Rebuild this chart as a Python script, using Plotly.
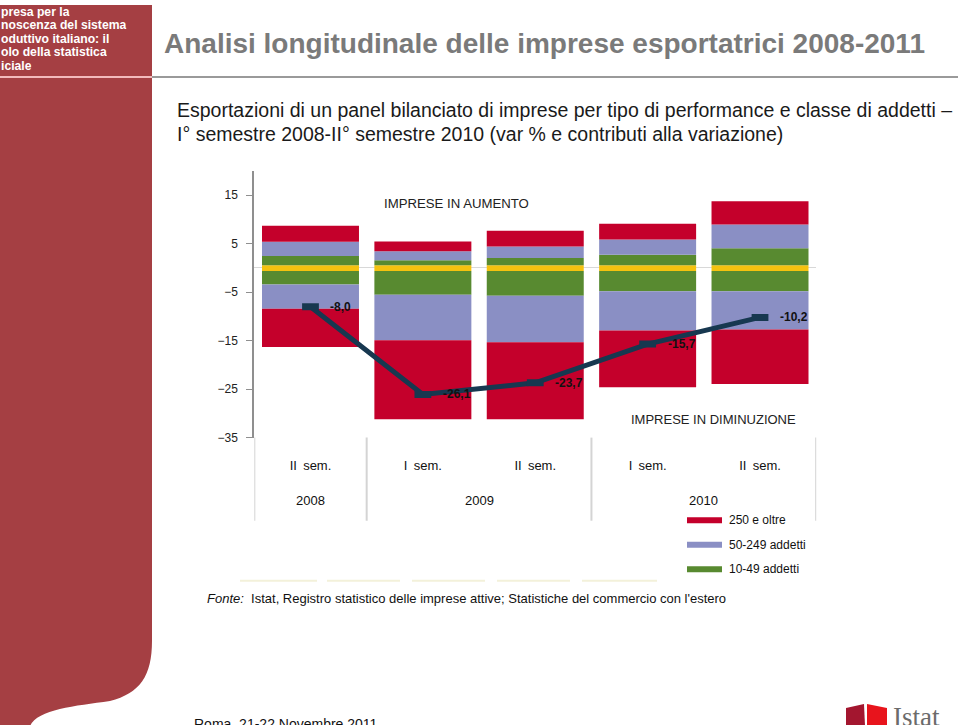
import plotly.graph_objects as go

# ---------------- data ----------------
periods = ["II sem. 2008", "I sem. 2009", "II sem. 2009", "I sem. 2010", "II sem. 2010"]
sem_labels = ["II\u00a0\u2009sem.", "I\u00a0\u2009sem.", "II\u00a0\u2009sem.", "I\u00a0\u2009sem.", "II\u00a0\u2009sem."]
years = ["2008", "2009", "2010"]
year_pos = [0, 1.5, 3.5]

micro_up = [0.55, 0.55, 0.55, 0.55, 0.55]
micro_down = [-0.62, -0.62, -0.62, -0.62, -0.62]
small_up = [1.9, 1.05, 1.5, 2.2, 3.5]
small_down = [-2.8, -4.9, -5.1, -4.2, -4.2]
medium_up = [2.95, 1.85, 2.4, 3.1, 4.9]
medium_down = [-5.0, -9.4, -9.6, -8.1, -7.9]
large_up = [3.3, 2.0, 3.25, 3.3, 4.8]
large_down = [-7.9, -16.3, -15.9, -11.7, -11.2]
net_change = [-8.0, -26.1, -23.7, -15.7, -10.2]
net_labels = ["-8,0", "-26,1", "-23,7", "-15,7", "-10,2"]

y_ticks = [15, 5, -5, -15, -25, -35]
legend_names = ["250 e oltre", "50-249 addetti", "10-49 addetti"]

# ---------------- styles ----------------
RED = "#C4002B"
BLUE = "#8A8FC4"
GREEN = "#588A30"
YELLOW = "#F5C20F"
NAVY = "#173850"
SIDEBAR = "#A53F43"
FONT = "Liberation Sans, Arial, sans-serif"
W, H = 960, 725          # reference picture size (layout grid)
FIG_H = 733              # figure height (viewport is slightly taller than the picture)


def px(x):
    return x / W


def py(y):
    return 1 - y / H


def note(x, y, text, size, color="#111", xanchor="left", yanchor="middle", family=FONT, **kw):
    d = dict(x=px(x), y=py(y), xref="paper", yref="paper", text=text, showarrow=False,
             xanchor=xanchor, yanchor=yanchor, font=dict(family=family, size=size, color=color))
    d.update(kw)
    return d


fig = go.Figure()

series = [
    (micro_up, micro_down, YELLOW, "fino a 9 addetti"),
    (small_up, small_down, GREEN, "10-49 addetti"),
    (medium_up, medium_down, BLUE, "50-249 addetti"),
    (large_up, large_down, RED, "250 e oltre"),
]
for up, down, col, name in series:
    for vals in (up, down):
        fig.add_trace(go.Bar(
            x=periods, y=vals, marker=dict(color=col, line=dict(width=0)),
            name=name, showlegend=False, hoverinfo="y+name",
        ))

fig.add_trace(go.Scatter(
    x=periods, y=net_change, mode="lines+markers",
    line=dict(color=NAVY, width=5),
    marker=dict(symbol="line-ew", size=12, color=NAVY, line=dict(width=7, color=NAVY)),
    showlegend=False, name="Totale",
))

annotations = []
for p, v, t in zip(periods, net_change, net_labels):
    annotations.append(dict(x=p, y=v, xref="x", yref="y", text="<b>%s</b>" % t,
                            showarrow=False, xanchor="left", yanchor="middle", xshift=18,
                            font=dict(family=FONT, size=12, color="#111")))

# years row
for yr, pos in zip(years, year_pos):
    annotations.append(dict(x=pos, y=py(500), xref="x", yref="paper", text=yr,
                            showarrow=False, xanchor="center", yanchor="middle",
                            font=dict(family=FONT, size=13, color="#111")))

annotations.append(note(456, 203, "IMPRESE IN AUMENTO", 13.2, "#222", xanchor="center"))
annotations.append(note(713, 419, "IMPRESE IN DIMINUZIONE", 13, "#222", xanchor="center"))

# title & subtitle
annotations.append(note(162, 43, "<b>Analisi longitudinale delle imprese esportatrici 2008-2011</b>", 28, "#7a7a7a"))
annotations.append(note(175, 110, "Esportazioni di un panel bilanciato di imprese per tipo di performance e classe di addetti \u2013",
                        19.5, "#1a1a1a"))
annotations.append(note(175, 134, "I\u00b0 semestre 2008-II\u00b0 semestre 2010 (var % e contributi alla variazione)",
                        19.5, "#1a1a1a"))

# sidebar text
side_lines = ["presa per la", "noscenza del sistema", "oduttivo italiano: il", "olo della statistica", "iciale"]
side_y = [11.5, 24.8, 38.1, 51.6, 65]
for t, yy in zip(side_lines, side_y):
    annotations.append(note(0, yy, "<b>%s</b>" % t, 12.2, "white", height=13.2, borderpad=0))

# legend
leg_cols = [RED, BLUE, GREEN]
leg_y = [519.5, 544, 568.5]
shapes = []
for name, col, yy in zip(legend_names, leg_cols, leg_y):
    shapes.append(dict(type="line", xref="paper", yref="paper", x0=px(687), x1=px(722),
                       y0=py(yy), y1=py(yy), line=dict(color=col, width=6)))
    annotations.append(note(727, yy, name, 12, "#111"))

# source
annotations.append(note(205, 598, "<i>Fonte:</i>  Istat, Registro statistico delle imprese attive; Statistiche del commercio con l'estero",
                        13, "#111"))

# footer
annotations.append(note(192, 723, "Roma, 21-22 Novembre 2011", 14, "#111"))
annotations.append(note(891, 716, "Istat", 27, "#6b6b6b", family="Liberation Serif, DejaVu Serif, serif"))

# category dividers
for xv in (-0.5, 0.5, 2.5, 4.5):
    shapes.append(dict(type="line", xref="x", yref="paper", x0=xv, x1=xv,
                       y0=py(437), y1=py(520), line=dict(color="#d4d4d4", width=2)))

# faint lines
for a, b in [(240, 317), (327, 400), (412, 485), (497, 570), (582, 657)]:
    shapes.append(dict(type="line", xref="paper", yref="paper", x0=px(a), x1=px(b),
                       y0=py(580), y1=py(580), line=dict(color="#F3F1DA", width=2)))

# sidebar blocks
shapes.append(dict(type="rect", xref="paper", yref="paper", x0=0, x1=px(152),
                   y0=py(76), y1=py(5), fillcolor=SIDEBAR, line=dict(width=0), layer="below"))
shapes.append(dict(type="line", xref="paper", yref="paper", x0=0, x1=px(152),
                   y0=py(77), y1=py(77), line=dict(color="#EFA3A6", width=1.5)))
path = "M %f,%f L %f,%f L %f,%f " % (px(0), py(78), px(152), py(78), px(152), py(640))
path += "C %f,%f %f,%f %f,%f " % (px(152), py(675), px(140), py(692), px(110), py(700))
path += "C %f,%f %f,%f %f,%f " % (px(75), py(705), px(38), py(708), px(30), py(725))
path += "L %f,%f Z" % (px(0), py(725))
shapes.append(dict(type="path", xref="paper", yref="paper", path=path,
                   fillcolor=SIDEBAR, line=dict(width=0), layer="below"))
# title underline
shapes.append(dict(type="line", xref="paper", yref="paper", x0=px(152), x1=px(958),
                   y0=py(77), y1=py(77), line=dict(color="#9a9a9a", width=2)))

# logo
lp = "M %f,%f L %f,%f L %f,%f L %f,%f Z" % (px(846), py(707), px(864), py(703), px(865), py(725), px(846), py(725))
rp = "M %f,%f L %f,%f L %f,%f L %f,%f Z" % (px(867), py(703), px(887), py(707), px(887), py(725), px(867), py(725))
shapes.append(dict(type="path", xref="paper", yref="paper", path=lp, fillcolor="#A3162F", line=dict(width=0)))
shapes.append(dict(type="path", xref="paper", yref="paper", path=rp, fillcolor="#E8141C", line=dict(width=0)))

fig.update_layout(
    width=W, height=FIG_H,
    margin=dict(l=0, r=0, t=0, b=0),
    paper_bgcolor="white", plot_bgcolor="white",
    barmode="relative", bargap=0.137,
    showlegend=False,
    font=dict(family=FONT, size=12, color="#222"),
    xaxis=dict(domain=[px(254.3), px(816.2)], range=[-0.5, 4.5],
               categoryorder="array", categoryarray=periods,
               tickmode="array", tickvals=periods, ticktext=sem_labels,
               showline=False, ticks="", showgrid=False, zeroline=False,
               tickfont=dict(family=FONT, size=13, color="#111"),
               ticklabelstandoff=18),
    yaxis=dict(domain=[py(437), py(170.8)], range=[-35, 20],
               tickmode="array", tickvals=y_ticks,
               showline=True, linecolor="#8f8f8f", linewidth=2,
               ticks="outside", ticklen=6, tickcolor="#8f8f8f", tickwidth=1,
               showgrid=False, zeroline=True, zerolinecolor="#d8d8d8", zerolinewidth=1,
               tickfont=dict(family=FONT, size=12, color="#222"),
               ticklabelstandoff=6),
    annotations=annotations,
    shapes=shapes,
)

fig.write_html("out.html", config={"displayModeBar": False},
               post_script="document.body.style.margin='0';document.body.style.overflow='hidden';")
